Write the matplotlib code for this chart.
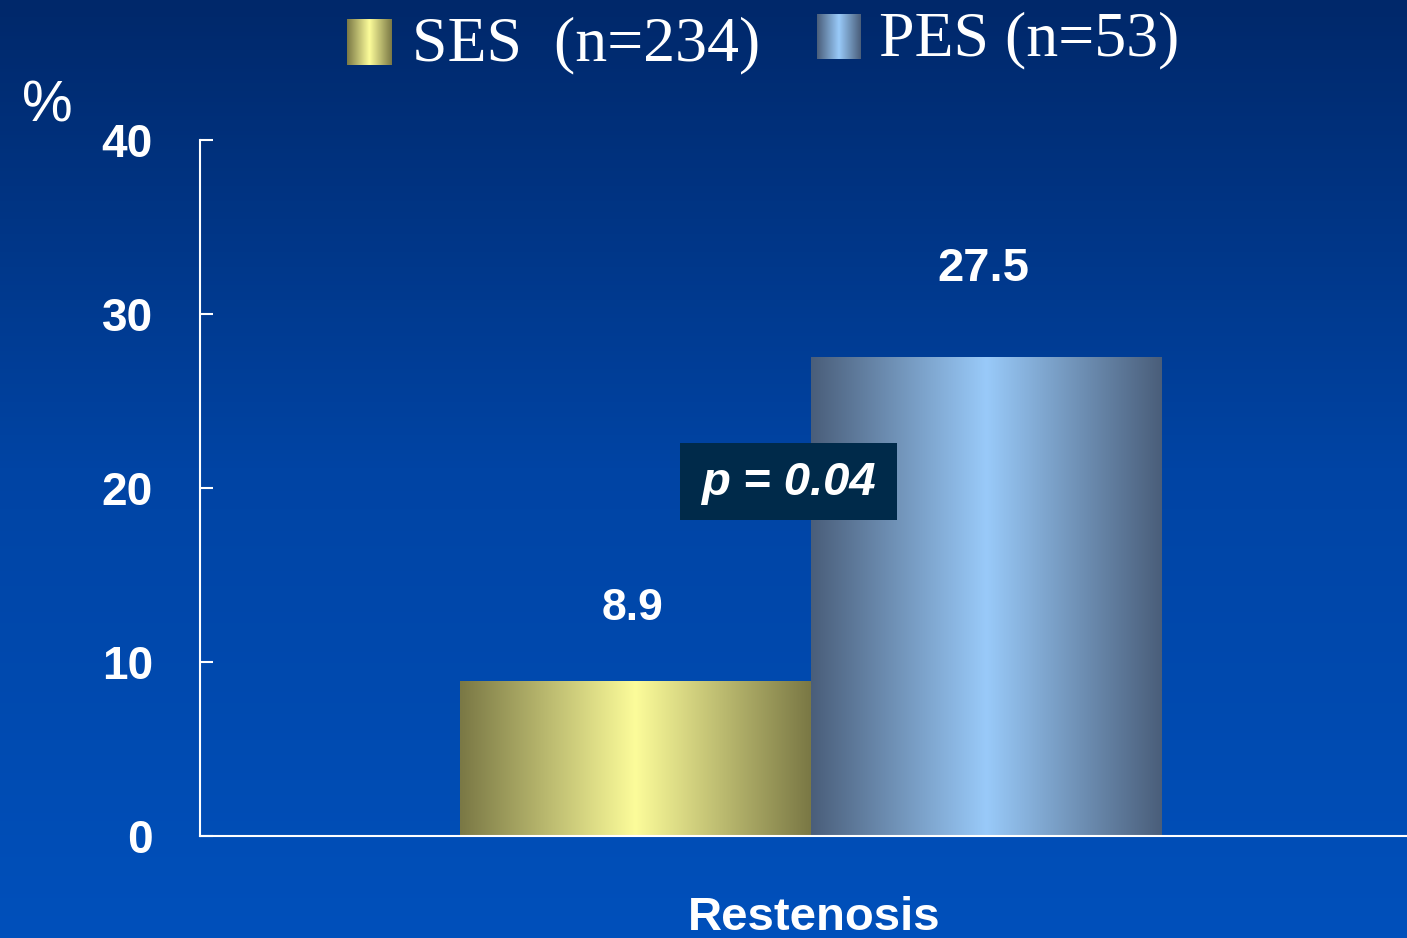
""" restenosis bar chart: SES vs PES """
import numpy as np
import matplotlib
matplotlib.use('Agg')
import matplotlib.pyplot as plt
from matplotlib.colors import LinearSegmentedColormap
from matplotlib.patches import Rectangle

# data
groups = ['SES', 'PES']
group_n = [234, 53]
restenosis = [8.9, 27.5]
category = 'Restenosis'
p_text = 'p = 0.04'
y_ticks = [0, 10, 20, 30, 40]

# styling
W, H, DPI = 1407, 938, 100
bg_top, bg_mid, bg_bot = '#00286A', '#0044A4', '#0050BB'
shades = {'SES': ('#7A7845', '#FCFC9A'), 'PES': ('#4A5E7A', '#99CAF9')}
narrow = ['Liberation Sans Narrow', 'Liberation Sans', 'DejaVu Sans']


def shade_cmap(edge, centre):
    return LinearSegmentedColormap.from_list('s', [edge, centre, edge])


def shade_strip(n=256):
    return np.linspace(0, 1, n).reshape(1, -1)


fig = plt.figure(figsize=(W / DPI, H / DPI), dpi=DPI)

# background gradient
bg = fig.add_axes([0, 0, 1, 1], zorder=-10)
bg.imshow(np.linspace(0, 1, 256).reshape(-1, 1), aspect='auto',
          cmap=LinearSegmentedColormap.from_list('bg', [bg_top, bg_mid, bg_bot]),
          extent=[0, 1, 0, 1], origin='upper')
bg.axis('off')

ax = fig.add_axes([200 / W, (H - 836) / H, 1 - 200 / W, (836 - 140) / H])
ax.patch.set_alpha(0)

x = np.array([-0.5, 0.5])
bars = ax.bar(x, restenosis, width=1.0, color='none', edgecolor='none', zorder=2)
for g, b in zip(groups, bars):
    x0, w, h = b.get_x(), b.get_width(), b.get_height()
    im = ax.imshow(shade_strip(), extent=[x0, x0 + w, 0, h], aspect='auto',
                   cmap=shade_cmap(*shades[g]), zorder=2, interpolation='bilinear')
    im.set_clip_path(b)

ax.set_xlim(-1.741, 1.698)
ax.set_ylim(0, 40)
ax.set_aspect('auto')

# value labels
offsets = [52, 64]
sizes = [32, 34]
for b, v, off, fs in zip(bars, restenosis, offsets, sizes):
    ax.annotate(f'{v}', (b.get_x() + b.get_width() / 2, v), xytext=(-2, off),
                textcoords='offset points', ha='center', va='center',
                color='white', fontsize=fs, fontweight='bold', family=narrow)

# p value box
ax.add_patch(Rectangle((-0.373, 18.16), 0.618, 4.43, facecolor='#002A4A',
                       edgecolor='none', zorder=4))
ax.text(-0.064, 20.3, p_text, ha='center', va='center', color='white',
        fontsize=34, fontweight='bold', fontstyle='italic',
        family=['Liberation Sans', 'DejaVu Sans'], zorder=5)

# axes styling
for s in ['top', 'right']:
    ax.spines[s].set_visible(False)
for s in ['left', 'bottom']:
    ax.spines[s].set_color('white')
    ax.spines[s].set_linewidth(1.5)
ax.set_yticks(y_ticks)
ax.tick_params(axis='y', direction='in', length=9, width=1.5, color='white',
               labelcolor='white', pad=34, labelsize=33)
for lab in ax.get_yticklabels():
    lab.set_fontweight('bold')
    lab.set_family(['Liberation Sans', 'DejaVu Sans'])
ax.set_xticks([0.01], [category])
ax.tick_params(axis='x', length=0, labelcolor='white', pad=43, labelsize=34)
for lab in ax.get_xticklabels():
    lab.set_fontweight('bold')
    lab.set_family(narrow)

fig.text(22 / W, (H - 122) / H, '%', color='white', fontsize=41,
         family=['Liberation Sans', 'DejaVu Sans'], va='baseline')

# legend (hand drawn, gradient swatches)
swatches = {'SES': (347, 19, 45, 46, 412, 60), 'PES': (817, 14, 44, 45, 879, 55)}
seps = {'SES': '  ', 'PES': ' '}
for g, n in zip(groups, group_n):
    sx, sy, sw, sh, tx, ty = swatches[g]
    sax = fig.add_axes([sx / W, (H - sy - sh) / H, sw / W, sh / H])
    sax.imshow(shade_strip(), aspect='auto', cmap=shade_cmap(*shades[g]),
               interpolation='bilinear')
    sax.axis('off')
    fig.text(tx / W, (H - ty) / H, f'{g}{seps[g]}(n={n})', color='white',
             fontsize=46, family=['Liberation Serif', 'DejaVu Serif'],
             va='baseline', ha='left')

fig.savefig('out.png', dpi=DPI)
